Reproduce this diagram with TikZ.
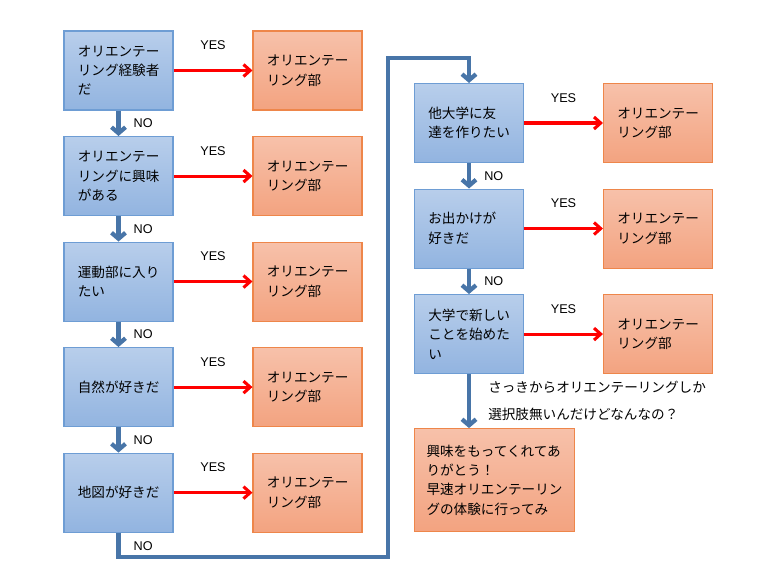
\documentclass[tikz,border=0pt]{standalone}
\usepackage{fontspec}
\setmainfont{Liberation Sans}
\newfontfamily\jpfont{Noto Sans CJK JP}
\usetikzlibrary{arrows.meta,positioning}
\definecolor{askfillA}{RGB}{184,206,235}
\definecolor{askfillB}{RGB}{146,180,224}
\definecolor{askline}{RGB}{110,157,212}
\definecolor{ansfillA}{RGB}{247,193,170}
\definecolor{ansfillB}{RGB}{243,163,128}
\definecolor{ansline}{RGB}{238,134,74}
\definecolor{noline}{RGB}{72,117,168}
\tikzset{
  blk/.style={draw,rectangle,line width=0.8pt,minimum width=81.75pt,minimum height=59.25pt,inner sep=0pt,align=left,font=\jpfont\fontsize{10.2}{14.6}\selectfont},
  askblk/.style={blk,top color=askfillA,bottom color=askfillB,draw=askline,text width=61pt},
  ansblk/.style={blk,top color=ansfillA,bottom color=ansfillB,draw=ansline,text width=61pt},
  msgblk/.style={ansblk,minimum width=120pt,minimum height=77.25pt,text width=102pt},
  yesarr/.style={-{Straight Barb[length=5pt,width=9pt]},line width=2.3pt,red},
  noarr/.style={-{Straight Barb[length=4.5pt,width=10.5pt]},line width=3.2pt,noline},
  lbl/.style={font=\fontsize{9.5}{11}\selectfont},
  notelbl/.style={font=\jpfont\fontsize{10.2}{20.25}\selectfont,align=left}
}
\begin{document}
\begin{tikzpicture}[x=0.75pt,y=-0.75pt,node distance=19.1pt and 59.2pt]
  \useasboundingbox (0,0) rectangle (781,588);
  % left column
  \node[askblk] (q1) at (118.5,70.5) {オリエンテー\\リング経験者\\だ};
  \node[askblk, below=of q1] (q2) {オリエンテー\\リングに興味\\がある};
  \node[askblk, below=of q2] (q3) {運動部に入り\\たい};
  \node[askblk, below=of q3] (q4) {自然が好きだ};
  \node[askblk, below=of q4] (q5) {地図が好きだ};
  \node[ansblk, right=of q1] (a1) {オリエンテー\\リング部};
  \node[ansblk, right=of q2] (a2) {オリエンテー\\リング部};
  \node[ansblk, right=of q3] (a3) {オリエンテー\\リング部};
  \node[ansblk, right=of q4] (a4) {オリエンテー\\リング部};
  \node[ansblk, right=of q5] (a5) {オリエンテー\\リング部};
  % right column
  \node[askblk] (q6) at (469,123) {他大学に友\\達を作りたい};
  \node[askblk, below=of q6] (q7) {お出かけが\\好きだ};
  \node[askblk, below=of q7] (q8) {大学で新しい\\ことを始めた\\い};
  \node[ansblk, right=of q6] (a6) {オリエンテー\\リング部};
  \node[ansblk, right=of q7] (a7) {オリエンテー\\リング部};
  \node[ansblk, right=of q8] (a8) {オリエンテー\\リング部};
  \node[msgblk, below=40.5pt of q8.south west, anchor=north west] (msg) {興味をもってくれてあ\\りがとう！\\早速オリエンテーリン\\グの体験に行ってみ};

  \foreach \i in {1,...,8}
    \draw[yesarr] (q\i) -- (a\i) node[midway,above=11pt,lbl,black]{YES};
  \foreach \i/\j in {1/2,2/3,3/4,4/5,6/7,7/8}
    \draw[noarr] (q\i) -- (q\j) node[midway,right=6.5pt,lbl,black]{NO};

  \coordinate (lowturn) at (388,557);
  \coordinate (highturn) at (388,58);
  \draw[noarr] (q5.south) |- (lowturn) node[pos=0.5,above right=0pt and 6.5pt,lbl,black]{NO}
    -- (highturn) -| (q6.north);
  \draw[noarr] (q8.south) -- (q8.south |- msg.north)
    node[midway,right=9.5pt,notelbl,black]{さっきからオリエンテーリングしか\\選択肢無いんだけどなんなの？};
\end{tikzpicture}
\end{document}
